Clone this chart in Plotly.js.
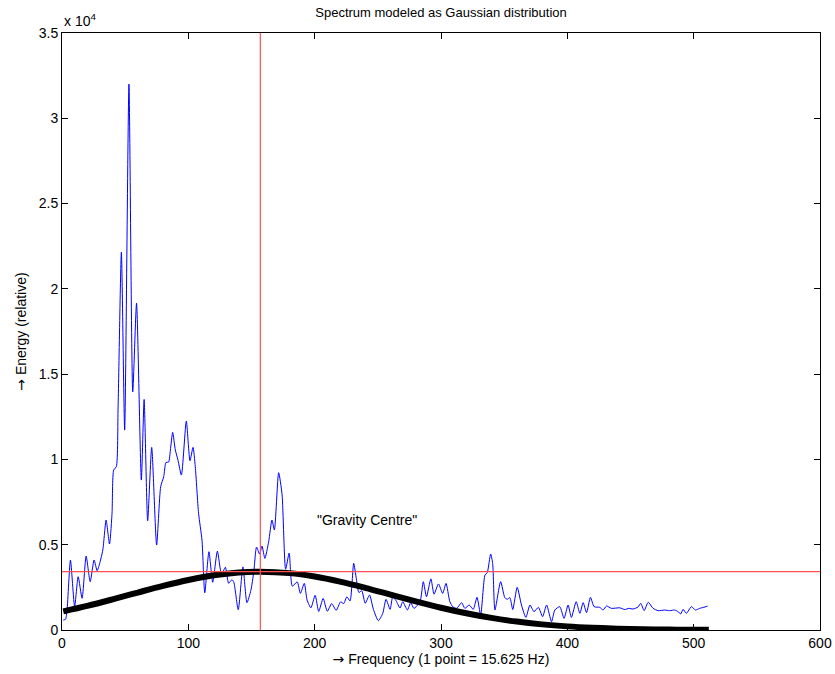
<!DOCTYPE html>
<html>
<head>
<meta charset="utf-8">
<script src="https://cdn.plot.ly/plotly-3.0.1.min.js"></script>
<style>html,body{margin:0;padding:0;background:#fff;}#chart{width:835px;height:674px;}</style>
</head>
<body>
<div id="chart"></div>
<script>
// Spectrum (blue), read at local extrema from the picture
const specX = [1,2.8,4,6.7,10,12.8,15.9,19.1,22.3,25.4,27.8,29.1,32.3,34.9,37.6,39.6,40.9,43,44.4,47,49.6,53,56,59,62.8,65,67.8,71,74.9,78.1,80.5,82.3,84.4,85.8,87.6,89.7,91.8,94.5,98.4,101.3,103.7,105.5,108.1,110.8,113,116.3,119.3,123,126.3,129.3,131.9,134.5,136,139.5,143.2,146.4,149.5,151.8,154,156.4,158.3,160.6,163.6,166.2,168.1,171.5,174.2,177,179.8,182.3,186.2,188.7,191.8,194,197,200.4,203.2,206.7,210,213.5,217,220.5,223,225.5,228,230.9,233,235,237.3,240,243.4,246.5,250.4,253.9,256.5,259.7,261.8,264.4,267.6,269.7,273.4,276,278.6,283.4,286,288.5,292,294.5,298,301.3,304,307,309.5,312.4,316.3,318.9,322.3,325.5,328.5,331.4,334.8,336.6,339.3,340.9,342.7,347.2,350.5,352.5,354.5,356.8,360.3,363.7,367.2,370.4,373.6,377.1,380.4,383.6,387.5,390.1,394,397.4,400.6,403.2,407,409.9,412.5,415.2,418.3,421.2,425.7,428.3,431,434.9,441.5,445.5,448.7,452,456,458.1,460.8,464,467.9,471.9,477,481,485,487.7,489.7,491.6,494.2,498.2,501.4,504.8,508,511];
const specY = [586,627,1170,4100,1370,3125,1856,4336,2832,4102,3477,3711,4688,6446,5040,6836,9376,9570,13086,22150,11720,32000,13966,19160,8790,13516,6405,10705,4980,8400,8985,9826,9845,10550,11583,10550,9963,9083,12250,9923,10705,9573,6836,5274,2180,4590,2800,4620,3250,3680,2740,2950,2800,1190,3700,1600,2320,3400,4860,4450,4920,4200,5177,6446,5860,9220,7930,3560,4510,2570,2820,2149,2735,1758,1300,2030,1090,1850,1100,1550,1150,1650,1550,1950,1700,3906,3000,2200,2300,1563,2051,1211,547,977,1797,1211,1953,1719,1290,1660,1172,1602,1270,1660,2832,1950,3000,2100,2700,2148,2735,1660,1350,1270,1602,1270,1465,1211,1914,879,3223,3360,4454,3906,1172,2832,1900,1800,1900,1200,2500,1465,742,1465,1074,1328,781,1465,488,1172,1367,684,1465,742,1660,977,1602,1016,1914,1367,1328,1172,1406,1270,1300,1200,1270,1230,1350,1563,1133,1621,1270,1133,1170,1133,1172,1074,938,1211,977,1367,1172,1270,1330,1400];

// Gaussian model (black)
const gaussX = [1,20,40,60,80,100,120,140,157,180,200,220,240,260,280,300,320,340,360,380,400,420,440,460,480,500,512];
const gaussY = [1090,1415,1797,2197,2587,2934,3205,3372,3418,3334,3134,2837,2473,2076,1679,1307,981,709,493,330,213,133,79,46,25,14,9];

// Gravity centre
const centreX = 157;
const centreY = 3418;

const yTickVals = [0,5000,10000,15000,20000,25000,30000,35000];
const yTickText = ['0','0.5','1','1.5','2','2.5','3','3.5'];
const xTickVals = [0,100,200,300,400,500,600];

const FONT = 'Liberation Sans, Arial, sans-serif';
const ARROW = '<span style="font-family:DejaVu Sans">\u2192</span>';

const traces = [
  {x: specX, y: specY, type: 'scatter', mode: 'lines',
   line: {color: '#0000ff', width: 1, shape: 'spline', smoothing: 0.6}, hoverinfo: 'skip'},
  {x: gaussX, y: gaussY, type: 'scatter', mode: 'lines',
   line: {color: '#000000', width: 6, shape: 'spline'}, hoverinfo: 'skip'}
];

const axisCommon = {
  showgrid: false, zeroline: false, showline: true, linecolor: '#000', linewidth: 1,
  mirror: 'ticks', ticks: 'inside', ticklen: 6, tickcolor: '#000', tickwidth: 1,
  tickfont: {family: FONT, size: 14, color: '#000'}
};

const layout = {
  width: 835, height: 674,
  margin: {l: 62, r: 15, t: 33, b: 44},
  paper_bgcolor: '#fff', plot_bgcolor: '#fff',
  showlegend: false,
  title: {text: 'Spectrum modeled as Gaussian distribution',
          font: {family: FONT, size: 13, color: '#000'},
          x: 0.5, xref: 'paper', y: 1, yref: 'container', yanchor: 'top', pad: {t: 8}},
  xaxis: Object.assign({}, axisCommon, {
    range: [0, 600], tickvals: xTickVals, ticktext: xTickVals.map(String),
    title: {text: ARROW + ' Frequency (1 point = 15.625 Hz)', standoff: 3,
            font: {family: FONT, size: 14, color: '#000'}}
  }),
  yaxis: Object.assign({}, axisCommon, {
    range: [0, 35000], tickvals: yTickVals, ticktext: yTickText,
    title: {text: ARROW + ' Energy (relative)', standoff: 8,
            font: {family: FONT, size: 14, color: '#000'}}
  }),
  shapes: [
    {type: 'line', xref: 'x', yref: 'y', x0: centreX, x1: centreX, y0: 0, y1: 35000,
     line: {color: '#ff5050', width: 1.2}},
    {type: 'line', xref: 'x', yref: 'y', x0: 0, x1: 600, y0: centreY, y1: centreY,
     line: {color: '#ff5050', width: 1.2}}
  ],
  annotations: [
    {text: '"Gravity Centre"', x: 200, y: 6450, xref: 'x', yref: 'y', xanchor: 'left', yanchor: 'middle',
     showarrow: false, font: {family: FONT, size: 14, color: '#000'}},
    {text: 'x 10<sup>4</sup>', x: 0, y: 1, xref: 'paper', yref: 'paper', xanchor: 'left', yanchor: 'bottom',
     yshift: 2, showarrow: false, font: {family: FONT, size: 14, color: '#000'}}
  ]
};

Plotly.newPlot('chart', traces, layout, {displayModeBar: false, staticPlot: true});
</script>
</body>
</html>
